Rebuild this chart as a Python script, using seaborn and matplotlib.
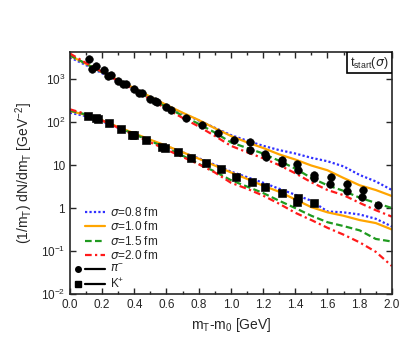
import numpy as np
import seaborn as sns
import matplotlib
import matplotlib.pyplot as plt
from matplotlib.lines import Line2D
from matplotlib.patches import Rectangle
from matplotlib.legend_handler import HandlerBase
from matplotlib.ticker import FixedLocator, MultipleLocator

sns.set_style("ticks")
plt.rcParams['font.family'] = ['Liberation Sans', 'DejaVu Sans']
plt.rcParams['mathtext.default'] = 'regular'

# x grid of the model curves (GeV)
x_grid = [0.0, 0.1, 0.2, 0.3, 0.4, 0.5, 0.6, 0.7, 0.8, 0.9, 1.0,
          1.1, 1.2, 1.3, 1.4, 1.5, 1.6, 1.7, 1.8, 1.9, 2.0]

# log10 of the spectra, pions (upper group)
pi_s08 = [3.51, 3.33, 3.14, 2.96, 2.78, 2.58, 2.39, 2.21, 2.04, 1.87, 1.70,
          1.57, 1.45, 1.35, 1.27, 1.17, 1.09, 0.97, 0.77, 0.62, 0.42]
pi_s10 = [3.55, 3.36, 3.17, 2.98, 2.79, 2.59, 2.40, 2.22, 2.05, 1.86, 1.68,
          1.53, 1.40, 1.25, 1.13, 0.99, 0.88, 0.70, 0.53, 0.42, 0.28]
pi_s15 = [3.56, 3.36, 3.16, 2.97, 2.77, 2.55, 2.35, 2.15, 1.96, 1.76, 1.53,
          1.40, 1.27, 1.10, 0.92, 0.70, 0.53, 0.40, 0.24, 0.12, 0.00]
pi_s20 = [3.60, 3.38, 3.17, 2.96, 2.75, 2.53, 2.31, 2.10, 1.90, 1.68, 1.45,
          1.30, 1.16, 1.00, 0.81, 0.60, 0.42, 0.30, 0.12, -0.05, -0.20]

# log10 of the spectra, kaons (lower group)
k_s08 = [2.22, 2.14, 2.02, 1.87, 1.72, 1.58, 1.44, 1.30, 1.16, 1.01, 0.85,
         0.72, 0.59, 0.45, 0.31, 0.17, -0.08, -0.10, -0.15, -0.25, -0.43]
k_s10 = [2.26, 2.17, 2.04, 1.89, 1.74, 1.59, 1.45, 1.30, 1.15, 0.99, 0.83,
         0.68, 0.52, 0.38, 0.20, 0.02, -0.10, -0.18, -0.28, -0.35, -0.50]
k_s15 = [2.27, 2.18, 2.04, 1.88, 1.72, 1.56, 1.40, 1.22, 1.03, 0.85, 0.65,
         0.50, 0.35, 0.17, 0.00, -0.18, -0.33, -0.42, -0.52, -0.72, -0.78]
k_s20 = [2.30, 2.19, 2.04, 1.87, 1.70, 1.53, 1.36, 1.19, 1.02, 0.83, 0.59,
         0.45, 0.29, 0.10, -0.11, -0.28, -0.46, -0.62, -0.80, -1.02, -1.35]

# data points (log10)
pi_x = [0.12, 0.135, 0.16, 0.21, 0.235, 0.255, 0.30, 0.33, 0.35, 0.40, 0.43,
        0.45, 0.50, 0.53, 0.54, 0.60, 0.625, 0.72, 0.82, 0.92, 1.02, 1.12,
        1.12, 1.215, 1.22, 1.32, 1.32, 1.41, 1.42, 1.515, 1.515, 1.62, 1.615,
        1.72, 1.72, 1.82, 1.815, 1.915]
pi_y = [3.47, 3.25, 3.31, 3.21, 3.08, 3.09, 2.97, 2.88, 2.88, 2.78, 2.68,
        2.68, 2.53, 2.50, 2.46, 2.36, 2.28, 2.10, 1.93, 1.75, 1.58, 1.53,
        1.35, 1.25, 1.18, 1.13, 1.04, 1.02, 0.88, 0.77, 0.71, 0.73, 0.55,
        0.55, 0.40, 0.42, 0.26, 0.08]
k_x = [0.11, 0.165, 0.175, 0.24, 0.32, 0.385, 0.40, 0.475, 0.575, 0.59,
       0.67, 0.755, 0.845, 0.94, 1.03, 1.13, 1.215, 1.32, 1.41, 1.42, 1.515]
k_y = [2.15, 2.09, 2.07, 1.98, 1.84, 1.71, 1.70, 1.58, 1.43, 1.41,
       1.30, 1.17, 1.04, 0.90, 0.73, 0.61, 0.48, 0.34, 0.15, 0.23, 0.12]

labels = [r'$\mathit{\sigma}$=0.8 fm', r'$\mathit{\sigma}$=1.0 fm',
          r'$\mathit{\sigma}$=1.5 fm', r'$\mathit{\sigma}$=2.0 fm']
colors = ['#3030ff', '#ffa500', '#1f9a1f', '#ff1a1a']
styles = [(0, (1, 1)), '-', (0, (3, 1.5)), (0, (3, 1.5, 1, 1.5))]


class MarkLineHandler(HandlerBase):
    # line on the right part of the handle box, optional marker on the left
    def create_artists(self, legend, orig_handle, xdescent, ydescent,
                       width, height, fontsize, trans):
        y = height / 2 - ydescent
        x0 = -xdescent
        ln = Line2D([x0 + 0.3 * width, x0 + width], [y, y])
        ln.update_from(orig_handle)
        ln.set_marker('None')
        ln.set_transform(trans)
        arts = [ln]
        if orig_handle.get_marker() not in ('None', None, '', ' '):
            mk = Line2D([x0 + 0.06 * width], [y], marker=orig_handle.get_marker(),
                        color='black', linestyle='none',
                        markersize=orig_handle.get_markersize())
            mk.set_transform(trans)
            arts.append(mk)
        return arts


fig = plt.figure(figsize=(4.16, 3.47), dpi=100)
ax = fig.add_axes([0.168, 0.153, 0.774, 0.697])

for i, (pc, kc) in enumerate(zip([pi_s08, pi_s10, pi_s15, pi_s20],
                                  [k_s08, k_s10, k_s15, k_s20])):
    sns.lineplot(x=x_grid, y=10 ** np.array(pc), ax=ax, color=colors[i],
                 linestyle=styles[i], linewidth=1.6)
    sns.lineplot(x=x_grid, y=10 ** np.array(kc), ax=ax, color=colors[i],
                 linestyle=styles[i], linewidth=1.6)

sns.scatterplot(x=pi_x, y=10 ** np.array(pi_y), ax=ax, marker='o', color='black',
                s=30, edgecolor='black', zorder=5)
sns.scatterplot(x=k_x, y=10 ** np.array(k_y), ax=ax, marker='s', color='black',
                s=30, edgecolor='black', zorder=5)

ax.set_yscale('log')
ax.set_xlim(0, 2.0)
ax.set_ylim(0.01, 4300)

ax.xaxis.set_major_locator(MultipleLocator(0.2))
ax.xaxis.set_minor_locator(MultipleLocator(0.1))
ax.xaxis.set_major_formatter(matplotlib.ticker.FormatStrFormatter('%.1f'))
ax.yaxis.set_major_locator(FixedLocator([0.01, 0.1, 1, 10, 100, 1000]))
ax.yaxis.set_minor_locator(FixedLocator([]))
ax.set_yticklabels(['$10^{-2}$', '$10^{-1}$', '1', '10', '$10^{2}$', '$10^{3}$'])
ax.tick_params(which='both', direction='in', top=True, right=True,
               labelsize=8.5, width=1.0)
ax.tick_params(which='major', length=4)
ax.tick_params(which='minor', length=2.5)
for sp in ax.spines.values():
    sp.set_linewidth(1.2)

ax.set_xlabel('m$_T$-m$_0$ [GeV]', fontsize=10)
ax.set_ylabel('(1/m$_T$) dN/dm$_T$ [GeV$^{-2}$]', fontsize=10)

# label box in the upper right corner
ax.add_patch(Rectangle((0.86, 0.913), 0.14, 0.087, transform=ax.transAxes,
                       fc='white', ec='black', lw=1.2, zorder=6))
ax.text(0.93, 0.956, r'$t_{start}(\mathit{\sigma})$', transform=ax.transAxes,
        ha='center', va='center', fontsize=9, zorder=7)

handles = [Line2D([], [], color=c, linestyle=s, linewidth=1.6)
           for c, s in zip(colors, styles)]
handles.append(Line2D([], [], marker='o', color='black', linewidth=1.6, markersize=4))
handles.append(Line2D([], [], marker='s', color='black', linewidth=1.6, markersize=4))
ax.legend(handles, labels + [r'$\mathit{\pi}^{-}$', 'K$^{+}$'],
          handler_map={Line2D: MarkLineHandler()},
          loc='lower left', bbox_to_anchor=(0.019, 0.012), frameon=False,
          fontsize=8.5, handlelength=2.45, handletextpad=0.45,
          labelspacing=0.12, borderpad=0, borderaxespad=0)

fig.savefig('out.png', dpi=100)
